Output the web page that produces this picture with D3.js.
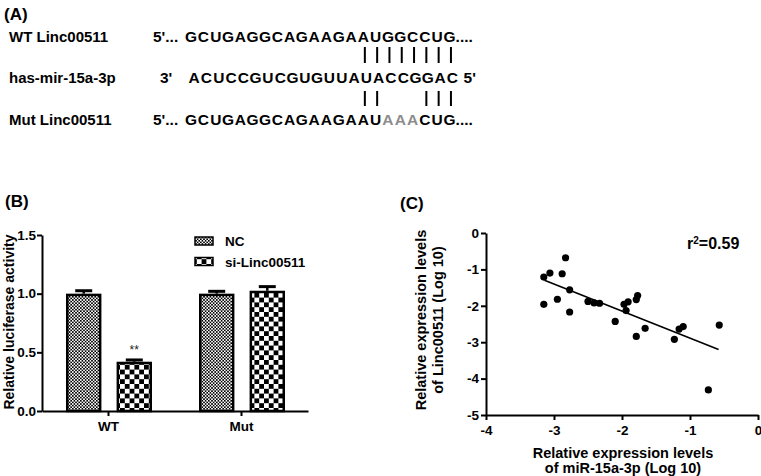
<!DOCTYPE html>
<html>
<head>
<meta charset="utf-8">
<script src="https://cdn.jsdelivr.net/npm/d3@7"></script>
<style>
  body { margin: 0; background: #fff; }
  svg { display: block; font-family: "Liberation Sans", Arial, sans-serif; }
</style>
</head>
<body>
<svg id="fig" width="761" height="476"></svg>
<script>
// ---- panel A: sequences ----
const seqLabels = ['WT Linc00511', 'has-mir-15a-3p', 'Mut Linc00511'];
const seqPrefix = ["5'...", "3'", "5'..."];
const seqSuffix = ['....', "5'", '....'];
const sequences = ['GCUGAGGCAGAAGAAUGGCCUG', 'ACUCCGUCGUGUUAUACCGGAC', 'GCUGAGGCAGAAGAAUAAACUG'];
const pairsTop = [14, 15, 16, 17, 18, 19, 20, 21];
const pairsBottom = [14, 15, 19, 20, 21];
const mutated = [16, 17, 18];

// ---- panel B: luciferase ----
const groups = ['WT', 'Mut'];
const seriesNames = ['NC', 'si-Linc00511'];
const ncValues = [1.0, 1.0];
const ncErr = [0.025, 0.02];
const siValues = [0.42, 1.025];
const siErr = [0.015, 0.035];
const yTicksB = [0, 0.5, 1.0, 1.5];

// ---- panel C: correlation ----
const xVals = [-3.15, -3.15, -3.06, -2.95, -2.88, -2.83, -2.77, -2.77, -2.50, -2.41, -2.33, -2.10,
               -1.97, -1.94, -1.91, -1.79, -1.77, -1.79, -1.66, -1.23, -1.16, -1.10, -0.57, -0.73];
const yVals = [-1.21, -1.96, -1.10, -1.82, -1.12, -0.68, -1.56, -2.17, -1.88, -1.92, -1.93, -2.43,
               -1.96, -2.13, -1.89, -1.83, -1.72, -2.84, -2.62, -2.92, -2.64, -2.57, -2.53, -4.31];
const fitX = [-3.14, -0.58];
const fitY = [-1.30, -3.20];
const xTicksC = [-4, -3, -2, -1, 0];
const yTicksC = [0, -1, -2, -3, -4, -5];

let svg = d3.select('#fig');
svg.append('rect').attr('width', 761).attr('height', 476).attr('fill', '#fff');

let defs = svg.append('defs');
function checker(id, cell) {
    let p = defs.append('pattern')
        .attr('id', id)
        .attr('patternUnits', 'userSpaceOnUse')
        .attr('width', cell * 2)
        .attr('height', cell * 2);
    p.append('rect').attr('width', cell * 2).attr('height', cell * 2).attr('fill', '#fff');
    p.append('rect').attr('width', cell).attr('height', cell).attr('fill', '#000');
    p.append('rect').attr('x', cell).attr('y', cell).attr('width', cell).attr('height', cell).attr('fill', '#000');
}
checker('patNC', 1.6);
checker('patSI', 4.8);

function panelTag(x, y, t) {
    svg.append('text')
        .attr('x', x).attr('y', y)
        .attr('font-size', 17).attr('font-weight', 'bold')
        .text(t);
}

// ================= (A) =================
panelTag(4, 20, '(A)');

const rowY = [42, 83, 125];
const seqStart = [185, 188, 185];
const step = 12.3;

seqLabels.forEach((lab, r) => {
    svg.append('text')
        .attr('x', 9).attr('y', rowY[r])
        .attr('font-size', 15).attr('font-weight', 'bold')
        .text(lab);

    svg.append('text')
        .attr('x', r == 1 ? 160 : 153).attr('y', rowY[r])
        .attr('font-size', 15.5).attr('font-weight', 'bold')
        .text(seqPrefix[r]);

    sequences[r].split('').forEach((ch, i) => {
        svg.append('text')
            .attr('x', seqStart[r] + (i + 0.5) * step)
            .attr('y', rowY[r])
            .attr('text-anchor', 'middle')
            .attr('font-size', 15.5).attr('font-weight', 'bold')
            .attr('fill', (r == 2 && mutated.includes(i)) ? '#8c8c8c' : '#000')
            .text(ch);
    });

    svg.append('text')
        .attr('x', seqStart[r] + sequences[r].length * step + (r == 1 ? 5 : 0))
        .attr('y', rowY[r])
        .attr('font-size', 15.5).attr('font-weight', 'bold')
        .text(seqSuffix[r]);
});

function pairBars(idx, y1, y2) {
    idx.forEach(i => {
        let x = 186.5 + (i + 0.5) * step;
        svg.append('line')
            .attr('x1', x).attr('x2', x)
            .attr('y1', y1).attr('y2', y2)
            .attr('stroke', '#000').attr('stroke-width', 2);
    });
}
pairBars(pairsTop, 47, 63);
pairBars(pairsBottom, 91, 106);

// ================= (B) =================
panelTag(5, 207, '(B)');

let yB = d3.scaleLinear().domain([0, 1.5]).range([411, 235]);
let xB = d3.scaleBand().domain(groups).range([42, 308]);
let xSub = d3.scaleBand().domain(seriesNames).range([24, 110]).paddingInner(0.3);

let gB = svg.append('g');

let axLeft = gB.append('g')
    .attr('transform', 'translate(42,0)')
    .call(d3.axisLeft(yB).tickValues(yTicksB).tickFormat(d3.format('.1f')).tickSize(5).tickSizeOuter(0));
let axBot = gB.append('g')
    .attr('transform', 'translate(0,411)')
    .call(d3.axisBottom(xB).tickSize(5).tickSizeOuter(0));

[axLeft, axBot].forEach(a => {
    a.selectAll('path, line').attr('stroke', '#000').attr('stroke-width', 2);
    a.selectAll('text')
        .attr('font-size', 13.5).attr('font-weight', 'bold')
        .attr('font-family', '"Liberation Sans", Arial, sans-serif')
        .attr('fill', '#000');
});
axLeft.selectAll('text').attr('x', -6);
axBot.selectAll('text').attr('y', 10);

gB.append('text')
    .attr('transform', 'translate(14,322) rotate(-90)')
    .attr('text-anchor', 'middle')
    .attr('font-size', 14).attr('font-weight', 'bold')
    .text('Relative luciferase activity');

const barSets = [
    { name: seriesNames[0], vals: ncValues, err: ncErr, pat: 'url(#patNC)' },
    { name: seriesNames[1], vals: siValues, err: siErr, pat: 'url(#patSI)' }
];

barSets.forEach(s => {
    groups.forEach((grp, gi) => {
        let x0 = xB(grp) + xSub(s.name);
        let w = xSub.bandwidth();
        let cx = x0 + w / 2;
        let top = yB(s.vals[gi]);
        let etop = yB(s.vals[gi] + s.err[gi]);
        gB.append('line')
            .attr('x1', cx).attr('x2', cx)
            .attr('y1', top).attr('y2', etop)
            .attr('stroke', '#000').attr('stroke-width', 2.5);
        gB.append('line')
            .attr('x1', cx - 8.5).attr('x2', cx + 8.5)
            .attr('y1', etop).attr('y2', etop)
            .attr('stroke', '#000').attr('stroke-width', 3);
        gB.append('rect')
            .attr('x', x0 + 1.25).attr('y', top + 1.25)
            .attr('width', w - 2.5).attr('height', yB(0) - top - 1.25)
            .attr('fill', s.pat)
            .attr('stroke', '#000').attr('stroke-width', 2.5);
    });
});

// significance mark above si WT
gB.append('text')
    .attr('x', xB('WT') + xSub(seriesNames[1]) + xSub.bandwidth() / 2)
    .attr('y', yB(siValues[0] + siErr[0]) - 6)
    .attr('text-anchor', 'middle')
    .attr('font-size', 12).attr('fill', '#222')
    .text('**');

// legend
seriesNames.forEach((n, i) => {
    let ly = 241 + i * 20.5;
    gB.append('rect')
        .attr('x', 195).attr('y', ly - 4)
        .attr('width', 18).attr('height', 8)
        .attr('fill', barSets[i].pat)
        .attr('stroke', '#000').attr('stroke-width', 1.5);
    gB.append('text')
        .attr('x', 225).attr('y', ly + 5)
        .attr('font-size', 13.5).attr('font-weight', 'bold')
        .text(n);
});

// ================= (C) =================
panelTag(400, 209, '(C)');

let xC = d3.scaleLinear().domain([-4, 0]).range([486, 758]);
let yC = d3.scaleLinear().domain([0, -5]).range([233, 415]);
let gC = svg.append('g');

let axCL = gC.append('g')
    .attr('transform', 'translate(486,0)')
    .call(d3.axisLeft(yC).tickValues(yTicksC).tickFormat(d => String(d)).tickSize(5).tickSizeOuter(0));
let axCB = gC.append('g')
    .attr('transform', 'translate(0,415)')
    .call(d3.axisBottom(xC).tickValues(xTicksC).tickFormat(d => String(d)).tickSize(5).tickSizeOuter(0));

[axCL, axCB].forEach(a => {
    a.selectAll('path, line').attr('stroke', '#000').attr('stroke-width', 2);
    a.selectAll('text')
        .attr('font-size', 13.5).attr('font-weight', 'bold')
        .attr('font-family', '"Liberation Sans", Arial, sans-serif')
        .attr('fill', '#000');
});
axCL.selectAll('text').attr('x', -7);
axCB.selectAll('text').attr('y', 10);

// regression line
gC.append('line')
    .attr('x1', xC(fitX[0])).attr('y1', yC(fitY[0]))
    .attr('x2', xC(fitX[1])).attr('y2', yC(fitY[1]))
    .attr('stroke', '#000').attr('stroke-width', 1.6);

gC.selectAll('circle.pt')
    .data(xVals.map((x, i) => [x, yVals[i]]))
    .join('circle')
    .attr('class', 'pt')
    .attr('cx', d => xC(d[0]))
    .attr('cy', d => yC(d[1]))
    .attr('r', 3.6)
    .attr('fill', '#000');

let r2 = gC.append('text')
    .attr('x', 687).attr('y', 249)
    .attr('font-size', 16).attr('font-weight', 'bold');
r2.append('tspan').text('r');
r2.append('tspan').attr('baseline-shift', 'super').attr('font-size', 10).text('2');
r2.append('tspan').text('=0.59');

gC.append('text')
    .attr('x', 623).attr('y', 458)
    .attr('text-anchor', 'middle')
    .attr('font-size', 14.5).attr('font-weight', 'bold')
    .text('Relative expression levels');
gC.append('text')
    .attr('x', 623).attr('y', 473)
    .attr('text-anchor', 'middle')
    .attr('font-size', 14.5).attr('font-weight', 'bold')
    .text('of miR-15a-3p (Log 10)');

gC.append('text')
    .attr('transform', 'translate(426,320) rotate(-90)')
    .attr('text-anchor', 'middle')
    .attr('font-size', 14.5).attr('font-weight', 'bold')
    .text('Relative expression levels');
gC.append('text')
    .attr('transform', 'translate(443,320) rotate(-90)')
    .attr('text-anchor', 'middle')
    .attr('font-size', 14.5).attr('font-weight', 'bold')
    .text('of Linc00511 (Log 10)');
</script>
</body>
</html>
